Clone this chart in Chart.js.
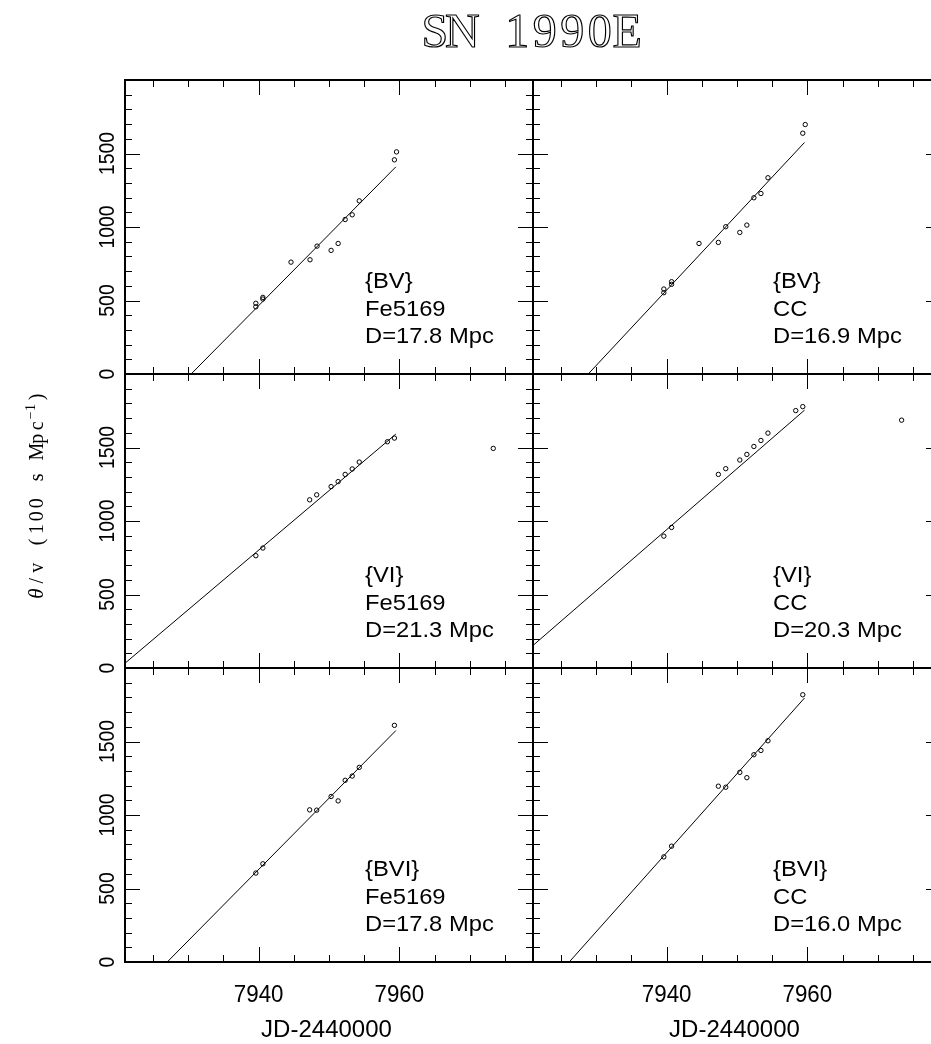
<!DOCTYPE html>
<html><head><meta charset="utf-8">
<script src="https://cdn.jsdelivr.net/npm/chart.js@4.4.0/dist/chart.umd.min.js"></script>
<style>
html,body{margin:0;padding:0;background:#fff;overflow:hidden;}
#wrap{position:relative;width:931px;height:1044px;overflow:hidden;background:#fff;}
#wrap canvas{position:absolute;left:0;top:0;}
</style></head><body><div id="wrap"></div>
<script>
// ---- axes / ticks ----
const X_MIN = 7921, X_MAX = 7979, Y_MIN = 0, Y_MAX = 2000;
const xMajorTicks = [7940, 7960];
const xTickLabels = ['7940', '7960'];
const xMinorTicks = [7925, 7930, 7935, 7945, 7950, 7955, 7965, 7970, 7975];
const yMajorTicks = [0, 500, 1000, 1500];
const yTickLabels = ['0', '500', '1000', '1500'];
const yMinorTicks = [100,200,300,400,600,700,800,900,1100,1200,1300,1400,1600,1700,1800,1900];
const titleText = 'SN 1990E';
const xAxisTitle = 'JD-2440000';
const yAxisTitleMain = '/v (100 s Mpc';
const yAxisTitleSup = '\u22121';

// ---- data: {BV} Fe5169 ----
const bvFeX = [7939.6, 7939.6, 7940.6, 7940.6, 7944.6, 7947.3, 7948.3, 7950.3, 7951.3, 7952.3, 7953.3, 7954.3, 7959.3, 7959.6];
const bvFeY = [481, 457, 521, 510, 761, 777, 870, 841, 888, 1051, 1083, 1178, 1457, 1511];
const bvFeFitX = [7930.4, 7959.5];
const bvFeFitY = [0, 1409];
const bvFeLabel = ['{BV}', 'Fe5169', 'D=17.8 Mpc'];

// ---- {BV} CC ----
const bvCcX = [7939.6, 7939.6, 7940.7, 7940.7, 7944.6, 7947.35, 7948.4, 7950.4, 7951.4, 7952.4, 7953.4, 7954.4, 7959.35, 7959.7];
const bvCcY = [578, 553, 628, 610, 888, 895, 1002, 963, 1013, 1199, 1228, 1335, 1638, 1697];
const bvCcFitX = [7928.85, 7959.6];
const bvCcFitY = [0, 1575];
const bvCcLabel = ['{BV}', 'CC', 'D=16.9 Mpc'];

// ---- {VI} Fe5169 ----
const viFeX = [7939.6, 7940.6, 7947.25, 7948.25, 7950.3, 7951.3, 7952.3, 7953.3, 7954.3, 7958.3, 7959.3, 7973.35];
const viFeY = [764, 816, 1144, 1178, 1234, 1268, 1317, 1354, 1401, 1539, 1564, 1494];
const viFeFitX = [7920.2, 7959.5];
const viFeFitY = [0, 1591];
const viFeLabel = ['{VI}', 'Fe5169', 'D=21.3 Mpc'];

// ---- {VI} CC ----
const viCcX = [7939.6, 7940.7, 7947.35, 7948.4, 7950.4, 7951.4, 7952.4, 7953.4, 7954.4, 7958.35, 7959.35, 7973.4];
const viCcY = [897, 956, 1317, 1356, 1415, 1453, 1507, 1548, 1598, 1751, 1778, 1686];
const viCcFitX = [7917.3, 7959.6];
const viCcFitY = [0, 1754];
const viCcLabel = ['{VI}', 'CC', 'D=20.3 Mpc'];

// ---- {BVI} Fe5169 ----
const bviFeX = [7939.6, 7940.6, 7947.25, 7948.25, 7950.3, 7951.3, 7952.3, 7953.3, 7954.3, 7959.3];
const bviFeY = [605, 668, 1035, 1033, 1126, 1096, 1236, 1265, 1324, 1610];
const bviFeFitX = [7927.0, 7959.5];
const bviFeFitY = [0, 1574];
const bviFeLabel = ['{BVI}', 'Fe5169', 'D=17.8 Mpc'];

// ---- {BVI} CC ----
const bviCcX = [7939.6, 7940.7, 7947.35, 7948.4, 7950.4, 7951.4, 7952.4, 7953.4, 7954.4, 7959.35];
const bviCcY = [715, 788, 1196, 1189, 1290, 1254, 1410, 1439, 1505, 1818];
const bviCcFitX = [7926.15, 7959.6];
const bviCcFitY = [0, 1796];
const bviCcLabel = ['{BVI}', 'CC', 'D=16.0 Mpc'];

// ---- layout (pixels) ----
const CW = 960, CH = 1044;
const colBounds = [[125, 533], [533, 941]];
const rowBounds = [[80, 374], [374, 668], [668, 962]];

const panels = [
  {xs: bvFeX, ys: bvFeY, fx: bvFeFitX, fy: bvFeFitY, label: bvFeLabel, row: 0, col: 0},
  {xs: bvCcX, ys: bvCcY, fx: bvCcFitX, fy: bvCcFitY, label: bvCcLabel, row: 0, col: 1},
  {xs: viFeX, ys: viFeY, fx: viFeFitX, fy: viFeFitY, label: viFeLabel, row: 1, col: 0},
  {xs: viCcX, ys: viCcY, fx: viCcFitX, fy: viCcFitY, label: viCcLabel, row: 1, col: 1},
  {xs: bviFeX, ys: bviFeY, fx: bviFeFitX, fy: bviFeFitY, label: bviFeLabel, row: 2, col: 0},
  {xs: bviCcX, ys: bviCcY, fx: bviCcFitX, fy: bviCcFitY, label: bviCcLabel, row: 2, col: 1},
];

const SANS = '"Liberation Sans", Arial, Helvetica, sans-serif';
const SERIF = '"Liberation Serif", "Times New Roman", serif';

function txt(ctx, s, x, y, font, align, sx, sy, rot) {
  ctx.save();
  ctx.translate(x, y);
  if (rot) ctx.rotate(rot);
  ctx.scale(sx || 1, sy || 1);
  ctx.font = font;
  ctx.textAlign = align || 'left';
  ctx.textBaseline = 'alphabetic';
  ctx.fillStyle = '#000';
  ctx.fillText(s, 0, 0);
  ctx.restore();
}

// draw characters in fixed-width cells (typewriter look), centred in each cell
function cells(ctx, chars, startX, y, cell, font, outline) {
  ctx.font = font;
  ctx.textAlign = 'center';
  let x = startX;
  for (const ch of chars) {
    if (outline) ctx.strokeText(ch, x + cell / 2, y);
    else ctx.fillText(ch, x + cell / 2, y);
    x += cell;
  }
  return x;
}

function makePlugin(p, first) {
  return {
    id: 'frame' + p.row + p.col,
    afterDraw(chart) {
      const ctx = chart.ctx, a = chart.chartArea;
      const xs = chart.scales.x, ys = chart.scales.y;
      ctx.save();
      ctx.strokeStyle = '#000';
      ctx.lineWidth = 1;
      ctx.beginPath();
      const xt = (v, len) => {
        const px = Math.round(xs.getPixelForValue(v)) + 0.5;
        ctx.moveTo(px, a.bottom); ctx.lineTo(px, a.bottom - len);
        ctx.moveTo(px, a.top); ctx.lineTo(px, a.top + len);
      };
      const yt = (v, len) => {
        const py = Math.round(ys.getPixelForValue(v)) + 0.5;
        ctx.moveTo(a.left, py); ctx.lineTo(a.left + len, py);
        ctx.moveTo(a.right, py); ctx.lineTo(a.right - len, py);
      };
      xMajorTicks.forEach(v => xt(v, 15));
      xMinorTicks.forEach(v => xt(v, 7));
      yMajorTicks.forEach(v => yt(v, 15));
      yMinorTicks.forEach(v => yt(v, 7));
      ctx.stroke();
      ctx.lineWidth = 2;
      ctx.strokeRect(a.left, a.top, a.right - a.left, a.bottom - a.top);
      ctx.restore();

      // panel annotation
      const offs = [86, 58.5, 31];
      p.label.forEach((s, i) => txt(ctx, s, a.left + 240, a.bottom - offs[i], '22px ' + SANS, 'left', 1.08));

      // y tick labels (left column)
      if (p.col === 0) {
        yMajorTicks.forEach((v, i) => {
          txt(ctx, yTickLabels[i], a.left - 11, ys.getPixelForValue(v), '22px ' + SANS, 'center', 0.88, 1, -Math.PI / 2);
        });
      }
      // x tick labels & title (bottom row)
      if (p.row === 2) {
        xMajorTicks.forEach((v, i) => {
          txt(ctx, xTickLabels[i], xs.getPixelForValue(v), a.bottom + 40, '24px ' + SANS, 'center', 0.93);
        });
        txt(ctx, xAxisTitle, (a.left + a.right) / 2 - 2.5, a.bottom + 75, '24px ' + SANS, 'center', 1.0);
      }
      if (first) {
        ctx.save();
        ctx.fillStyle = '#000';
        ctx.strokeStyle = '#000';
        ctx.lineWidth = 1.15;
        ctx.textBaseline = 'alphabetic';
        // page title, typewriter-like spacing, thin outlined glyphs
        const tcell = 27.5;
        cells(ctx, titleText, 531 - tcell * titleText.length / 2, 47, tcell, '48px ' + SERIF, true);
        // y-axis title (rotated, reading upward)
        ctx.translate(43, 495);
        ctx.rotate(-Math.PI / 2);
        const cell = 12.9, small = 8;
        let x = -105;
        x = cells(ctx, '\u03b8', x, 0, cell, 'italic 21px ' + SERIF);
        x = cells(ctx, yAxisTitleMain, x, 0, cell, '20px ' + SERIF);
        x = cells(ctx, yAxisTitleSup, x, -8, small, '14px ' + SERIF);
        cells(ctx, ')', x, 0, cell, '20px ' + SERIF);
        ctx.restore();
      }
    }
  };
}

const wrap = document.getElementById('wrap');
panels.forEach((p, idx) => {
  const cv = document.createElement('canvas');
  cv.width = CW; cv.height = CH;
  cv.style.width = CW + 'px'; cv.style.height = CH + 'px';
  wrap.appendChild(cv);
  const [L, R] = colBounds[p.col];
  const [T, B] = rowBounds[p.row];
  new Chart(cv, {
    type: 'scatter',
    data: {
      datasets: [
        {
          data: p.xs.map((v, i) => ({x: v, y: p.ys[i]})),
          showLine: false,
          pointStyle: 'circle',
          pointRadius: 2.2,
          pointBorderWidth: 1,
          borderColor: '#000',
          pointBorderColor: '#000',
          backgroundColor: 'rgba(0,0,0,0)',
          pointBackgroundColor: 'rgba(0,0,0,0)'
        },
        {
          data: p.fx.map((v, i) => ({x: v, y: p.fy[i]})),
          showLine: true,
          pointRadius: 0,
          borderColor: '#000',
          borderWidth: 1,
          fill: false
        }
      ]
    },
    options: {
      responsive: false,
      animation: false,
      devicePixelRatio: 1,
      events: [],
      layout: {padding: {left: L, top: T, right: CW - R, bottom: CH - B}},
      scales: {
        x: {type: 'linear', display: false, min: X_MIN, max: X_MAX},
        y: {type: 'linear', display: false, min: Y_MIN, max: Y_MAX}
      },
      plugins: {legend: {display: false}, tooltip: {enabled: false}, title: {display: false}}
    },
    plugins: [makePlugin(p, idx === 0)]
  });
});
</script>
</body></html>
